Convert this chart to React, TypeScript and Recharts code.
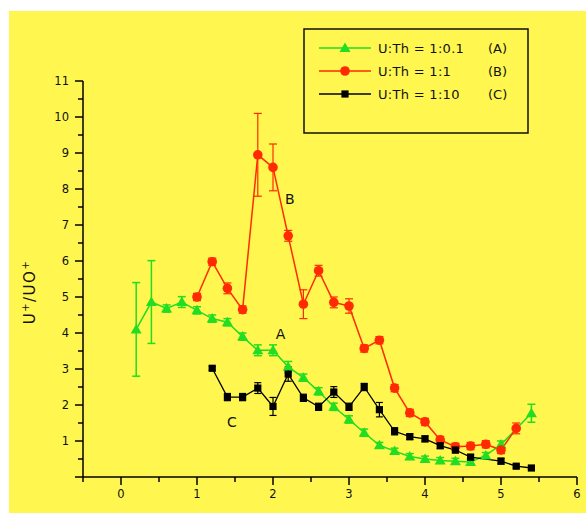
import React from 'react';
import { ComposedChart, Line, XAxis, YAxis, ErrorBar, ReferenceDot } from 'recharts';

// Series A: U:Th = 1:0.1
const xA = [0.2, 0.4, 0.6, 0.8, 1.0, 1.2, 1.4, 1.6, 1.8, 2.0, 2.2, 2.4, 2.6, 2.8, 3.0, 3.2, 3.4, 3.6, 3.8, 4.0, 4.2, 4.4, 4.6, 4.8, 5.0, 5.4];
const yA = [4.1, 4.86, 4.68, 4.86, 4.63, 4.4, 4.3, 3.9, 3.52, 3.52, 3.06, 2.76, 2.38, 1.95, 1.6, 1.23, 0.88, 0.72, 0.57, 0.5, 0.46, 0.44, 0.42, 0.6, 0.9, 1.77];
const eA = [1.3, 1.15, 0.1, 0.15, 0.1, 0.1, 0.1, 0.1, 0.15, 0.15, 0.15, 0.1, 0.1, 0.1, 0.1, 0.1, 0.08, 0.08, 0.08, 0.08, 0.08, 0.08, 0.08, 0.08, 0.1, 0.25];

// Series B: U:Th = 1:1
const xB = [1.0, 1.2, 1.4, 1.6, 1.8, 2.0, 2.2, 2.4, 2.6, 2.8, 3.0, 3.2, 3.4, 3.6, 3.8, 4.0, 4.2, 4.4, 4.6, 4.8, 5.0, 5.2];
const yB = [5.0, 5.98, 5.24, 4.65, 8.95, 8.6, 6.7, 4.8, 5.73, 4.85, 4.75, 3.57, 3.8, 2.47, 1.78, 1.53, 1.03, 0.84, 0.86, 0.91, 0.75, 1.35];
const eB = [0.1, 0.1, 0.15, 0.1, 1.15, 0.65, 0.15, 0.4, 0.15, 0.15, 0.2, 0.1, 0.1, 0.1, 0.1, 0.1, 0.1, 0.1, 0.1, 0.1, 0.1, 0.15];

// Series C: U:Th = 1:10
const xC = [1.2, 1.4, 1.6, 1.8, 2.0, 2.2, 2.4, 2.6, 2.8, 3.0, 3.2, 3.4, 3.6, 3.8, 4.0, 4.2, 4.4, 4.6, 5.0, 5.2, 5.4];
const yC = [3.02, 2.22, 2.22, 2.47, 1.96, 2.86, 2.2, 1.95, 2.36, 1.95, 2.5, 1.87, 1.27, 1.12, 1.06, 0.87, 0.75, 0.55, 0.44, 0.3, 0.25];
const eC = [0.05, 0.1, 0.1, 0.15, 0.25, 0.2, 0.1, 0.1, 0.15, 0.1, 0.1, 0.2, 0.1, 0.08, 0.08, 0.08, 0.08, 0.08, 0.08, 0.05, 0.05];

const xTicks = [-0.5, 0, 0.5, 1, 1.5, 2, 2.5, 3, 3.5, 4, 4.5, 5, 5.5, 6];
const yTicks = [0, 0.5, 1, 1.5, 2, 2.5, 3, 3.5, 4, 4.5, 5, 5.5, 6, 6.5, 7, 7.5, 8, 8.5, 9, 9.5, 10, 10.5, 11];

const legendLabels = ['U:Th = 1:0.1', 'U:Th = 1:1', 'U:Th = 1:10'];
const legendTags = ['(A)', '(B)', '(C)'];

const curveLabelText = ['B', 'A', 'C'];
const curveLabelX = [2.22, 2.1, 1.46];
const curveLabelY = [7.72, 3.98, 1.53];

const GREEN = '#22DD22';
const RED = '#FF2A00';
const BLACK = '#000000';
const YELLOW = '#FFF750';
const FONT = '"DejaVu Sans", sans-serif';

const build = (xs: number[], ys: number[], es: number[]) => xs.map((x, i) => ({ x, y: ys[i], e: es[i] }));
const dataA = build(xA, yA, eA);
const dataB = build(xB, yB, eB);
const dataC = build(xC, yC, eC);

const triPath = (cx: number, cy: number) => `M${cx},${cy - 5.5} L${cx + 5.5},${cy + 4} L${cx - 5.5},${cy + 4} Z`;

const TriDot = (p: any) => {
  const { cx, cy } = p;
  if (cx == null || cy == null) return <g key={p.key} />;
  return <path key={p.key} d={triPath(cx, cy)} fill={GREEN} />;
};
const CircDot = (p: any) => {
  const { cx, cy } = p;
  if (cx == null || cy == null) return <g key={p.key} />;
  return <circle key={p.key} cx={cx} cy={cy} r={4.8} fill={RED} />;
};
const SqDot = (p: any) => {
  const { cx, cy } = p;
  if (cx == null || cy == null) return <g key={p.key} />;
  return <rect key={p.key} x={cx - 3.6} y={cy - 3.6} width={7.2} height={7.2} fill={BLACK} />;
};

const XTick = (p: any) => {
  const { x, y, payload } = p;
  const v = payload.value as number;
  const major = Number.isInteger(v);
  return (
    <g>
      <line x1={x} x2={x} y1={y} y2={y + (major ? 8 : 5)} stroke="#000" strokeWidth={1.5} />
      {major && (
        <text x={x} y={y + 21} textAnchor="middle" fontSize={11.5} fontFamily={FONT} fill="#111">
          {v}
        </text>
      )}
    </g>
  );
};

const YTick = (p: any) => {
  const { x, y, payload } = p;
  const v = payload.value as number;
  const major = Number.isInteger(v);
  return (
    <g>
      <line x1={x} x2={x - (major ? 8 : 5)} y1={y} y2={y} stroke="#000" strokeWidth={1.5} />
      {major && v > 0 && (
        <text x={x - 14} y={y + 4} textAnchor="end" fontSize={11.5} fontFamily={FONT} fill="#111">
          {v}
        </text>
      )}
    </g>
  );
};

const LabelShape = (text: string) => (p: any) => (
  <text x={p.cx} y={p.cy + 5} textAnchor="middle" fontSize={14} fontFamily={FONT} fill="#111">
    {text}
  </text>
);

export default function App() {
  const legendColors = [GREEN, RED, BLACK];
  const legendY = [48, 71, 94];
  return (
    <div style={{ position: 'absolute', left: 0, top: 0, width: 586, height: 513, background: '#fff', overflow: 'hidden' }}>
      <div style={{ position: 'absolute', left: 9, top: 11, width: 577, height: 502, background: YELLOW }}>
        <ComposedChart width={577} height={502} margin={{ top: 70, right: 9, bottom: 0, left: 0 }}>
          <XAxis
            type="number"
            dataKey="x"
            domain={[-0.5, 6]}
            ticks={xTicks}
            interval={0}
            height={36}
            tickSize={0}
            tickMargin={0}
            tickLine={false}
            axisLine={{ stroke: '#000', strokeWidth: 1.5 }}
            tick={<XTick />}
            allowDataOverflow
          />
          <YAxis
            type="number"
            domain={[0, 11]}
            ticks={yTicks}
            interval={0}
            width={74}
            tickSize={0}
            tickMargin={0}
            tickLine={false}
            axisLine={{ stroke: '#000', strokeWidth: 1.5 }}
            tick={<YTick />}
            allowDataOverflow
          />
          <Line data={dataA} dataKey="y" stroke={GREEN} strokeWidth={1.5} dot={TriDot} activeDot={false} isAnimationActive={false}>
            <ErrorBar dataKey="e" direction="y" width={4} stroke={GREEN} strokeWidth={1.5} />
          </Line>
          <Line data={dataB} dataKey="y" stroke={RED} strokeWidth={1.5} dot={CircDot} activeDot={false} isAnimationActive={false}>
            <ErrorBar dataKey="e" direction="y" width={4} stroke={RED} strokeWidth={1.2} />
          </Line>
          <Line data={dataC} dataKey="y" stroke={BLACK} strokeWidth={1.3} dot={SqDot} activeDot={false} isAnimationActive={false}>
            <ErrorBar dataKey="e" direction="y" width={3.5} stroke={BLACK} strokeWidth={1.2} />
          </Line>
          {curveLabelText.map((t, i) => (
            <ReferenceDot key={t} x={curveLabelX[i]} y={curveLabelY[i]} r={1} shape={LabelShape(t)} />
          ))}
        </ComposedChart>
      </div>
      <svg width={586} height={513} style={{ position: 'absolute', left: 0, top: 0, pointerEvents: 'none' }}>
        <rect x={304} y={29} width={224} height={104} fill="none" stroke="#111" strokeWidth={1.5} />
        {legendLabels.map((lab, i) => (
          <g key={lab}>
            <line x1={319} x2={371} y1={legendY[i]} y2={legendY[i]} stroke={legendColors[i]} strokeWidth={1.5} />
            {i === 0 && <path d={triPath(345, legendY[i])} fill={GREEN} />}
            {i === 1 && <circle cx={345} cy={legendY[i]} r={4.8} fill={RED} />}
            {i === 2 && <rect x={341.4} y={legendY[i] - 3.6} width={7.2} height={7.2} fill={BLACK} />}
            <text x={378} y={legendY[i] + 5} fontSize={13} fontFamily={FONT} fill="#111" letterSpacing={0.3}>
              {lab}
            </text>
            <text x={488} y={legendY[i] + 5} fontSize={13} fontFamily={FONT} fill="#111">
              {legendTags[i]}
            </text>
          </g>
        ))}
        <text transform="rotate(-90, 35, 292)" x={35} y={292} textAnchor="middle" fontSize={15} fontFamily={FONT} fill="#111" letterSpacing={1.5}>
          U<tspan dy={-6} fontSize={10}>+</tspan>
          <tspan dy={6}>/UO</tspan>
          <tspan dy={-6} fontSize={10}>+</tspan>
        </text>
      </svg>
    </div>
  );
}
